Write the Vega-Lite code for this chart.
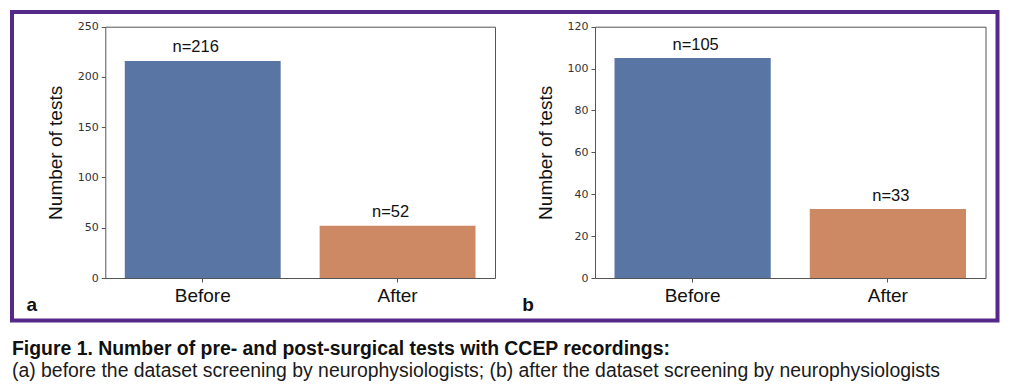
{
  "$schema": "https://vega.github.io/schema/vega-lite/v6.json",
  "autosize": "none",
  "padding": {"left": 12, "top": 12, "right": 12.5, "bottom": 70.5},
  "width": 985.5,
  "height": 308.5,
  "background": "white",
  "config": {
    "view": {"stroke": "#55298a", "strokeWidth": 4},
    "font": "Liberation Sans"
  },
  "title": {
    "text": "Figure 1. Number of pre- and post-surgical tests with CCEP recordings:",
    "subtitle": "(a) before the dataset screening by neurophysiologists; (b) after the dataset screening by neurophysiologists",
    "orient": "bottom",
    "anchor": "start",
    "frame": "group",
    "font": "Liberation Sans",
    "fontSize": 19.4,
    "fontWeight": "bold",
    "color": "#111111",
    "subtitleFont": "Liberation Sans",
    "subtitleFontSize": 19.4,
    "subtitleColor": "#1a1a1a",
    "subtitlePadding": 3,
    "offset": 19
  },
  "layer": [
    {
      "data": {"values": [
        {"panel": "a", "phase": "Before", "count": 216, "label": "n=216"},
        {"panel": "a", "phase": "After", "count": 52, "label": "n=52"}
      ]},
      "layer": [
        {
          "mark": {"type": "bar"},
          "encoding": {
            "x": {"field": "phase", "type": "nominal",
              "scale": {"domain": ["Before", "After"], "range": [93.3, 483], "paddingInner": 0.2, "paddingOuter": 0.1},
              "axis": {"orient": "bottom", "offset": -42.5, "title": "a", "titleX": 14, "titleY": 32, "titleAlign": "left", "titleBaseline": "alphabetic", "titleAngle": 0, "titleFontWeight": "bold", "titleFontSize": 19, "titleColor": "#111111", "titleFont": "Liberation Sans",
                "labelAngle": 0, "labelFont": "Liberation Sans", "labelFontSize": 19, "labelColor": "#111111", "labelPadding": 4, "tickSize": 4, "tickColor": "#555555", "domainColor": "#555555", "domainWidth": 1, "grid": false}},
            "y": {"field": "count", "type": "quantitative",
              "scale": {"domain": [0, 250], "range": [266, 14.7], "nice": false},
              "axis": {"orient": "left", "offset": -93.3, "values": [0, 50, 100, 150, 200, 250], "title": "Number of tests", "titleFont": "Liberation Sans", "titleFontSize": 19, "titleFontWeight": "normal", "titleColor": "#111111", "titlePadding": 12,
                "labelFont": "DejaVu Sans", "labelFontSize": 11, "labelColor": "#333333", "labelPadding": 3, "tickSize": 4, "tickColor": "#555555", "domainColor": "#555555", "grid": false}},
            "color": {"field": "phase", "type": "nominal", "scale": {"domain": ["Before", "After"], "range": ["#5875a4", "#cc8963"]}, "legend": null}
          }
        },
        {
          "mark": {"type": "text", "baseline": "alphabetic", "dy": -9, "dx": -7, "fontSize": 16.5, "font": "Liberation Sans", "color": "#111111"},
          "encoding": {
            "x": {"field": "phase", "type": "nominal",
              "axis": {"orient": "top", "offset": -14.7, "labels": false, "ticks": false, "title": null, "domainColor": "#555555", "grid": false}},
            "y": {"field": "count", "type": "quantitative",
              "axis": {"orient": "right", "offset": -502.5, "labels": false, "ticks": false, "title": null, "domainColor": "#555555", "grid": false}},
            "text": {"field": "label"}
          }
        }
      ],
      "resolve": {"axis": {"x": "independent", "y": "independent"}}
    },
    {
      "data": {"values": [
        {"panel": "b", "phase": "Before", "count": 105, "label": "n=105"},
        {"panel": "b", "phase": "After", "count": 33, "label": "n=33"}
      ]},
      "layer": [
        {
          "mark": {"type": "bar"},
          "encoding": {
            "x": {"field": "phase", "type": "nominal",
              "scale": {"domain": ["Before", "After"], "range": [583, 973.5], "paddingInner": 0.2, "paddingOuter": 0.1},
              "axis": {"orient": "bottom", "offset": -42.5, "title": "b", "titleX": 509.7, "titleY": 32, "titleAlign": "left", "titleBaseline": "alphabetic", "titleAngle": 0, "titleFontWeight": "bold", "titleFontSize": 19, "titleColor": "#111111", "titleFont": "Liberation Sans",
                "labelAngle": 0, "labelFont": "Liberation Sans", "labelFontSize": 19, "labelColor": "#111111", "labelPadding": 4, "tickSize": 4, "tickColor": "#555555", "domainColor": "#555555", "domainWidth": 1, "grid": false}},
            "y": {"field": "count", "type": "quantitative",
              "scale": {"domain": [0, 120], "range": [266, 14.7], "nice": false},
              "axis": {"orient": "left", "offset": -583, "values": [0, 20, 40, 60, 80, 100, 120], "title": "Number of tests", "titleFont": "Liberation Sans", "titleFontSize": 19, "titleFontWeight": "normal", "titleColor": "#111111", "titlePadding": 12,
                "labelFont": "DejaVu Sans", "labelFontSize": 11, "labelColor": "#333333", "labelPadding": 3, "tickSize": 4, "tickColor": "#555555", "domainColor": "#555555", "grid": false}},
            "color": {"field": "phase", "type": "nominal", "scale": {"domain": ["Before", "After"], "range": ["#5875a4", "#cc8963"]}, "legend": null}
          }
        },
        {
          "mark": {"type": "text", "baseline": "alphabetic", "dy": -8, "dx": 3, "fontSize": 16.5, "font": "Liberation Sans", "color": "#111111"},
          "encoding": {
            "x": {"field": "phase", "type": "nominal",
              "axis": {"orient": "top", "offset": -14.7, "labels": false, "ticks": false, "title": null, "domainColor": "#555555", "grid": false}},
            "y": {"field": "count", "type": "quantitative",
              "axis": {"orient": "right", "offset": -12, "labels": false, "ticks": false, "title": null, "domainColor": "#555555", "grid": false}},
            "text": {"field": "label"}
          }
        }
      ],
      "resolve": {"axis": {"x": "independent", "y": "independent"}}
    }
  ],
  "resolve": {"scale": {"x": "independent", "y": "independent"}, "axis": {"x": "independent", "y": "independent"}}
}
